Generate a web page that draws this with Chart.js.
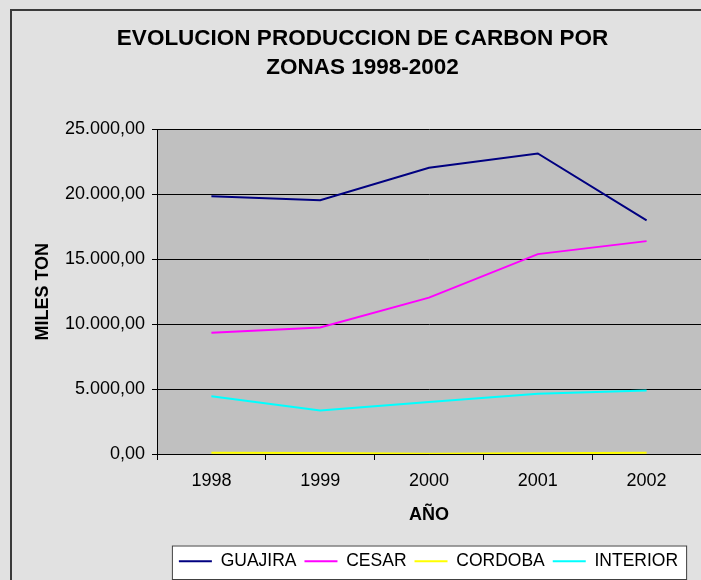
<!DOCTYPE html>
<html>
<head>
<meta charset="utf-8">
<title>Evolucion produccion de carbon</title>
<script src="https://cdn.jsdelivr.net/npm/chart.js@4.4.1/dist/chart.umd.min.js"></script>
<style>
    html, body { margin: 0; padding: 0; background: #e1e1e1; }
    #wrap { width: 701px; height: 580px; }
</style>
</head>
<body>
<div id="wrap"><canvas id="carbon"></canvas></div>
<script>
(function () {
    'use strict';

    //DATA (MILES TON)
    var years = ['1998', '1999', '2000', '2001', '2002'];
    var guajira = [19850, 19550, 22050, 23150, 18000];
    var cesar = [9350, 9750, 12050, 15400, 16400];
    var cordoba = [90, 80, 20, 60, 90];
    var interior = [4450, 3350, 4000, 4650, 4900];
    var yTicks = [0, 5000, 10000, 15000, 20000, 25000];

    var FONT = "'Liberation Sans', Arial, sans-serif";

    //25000 -> 25.000,00
    function miles(v) {
        var s = Math.round(v).toString();
        s = s.replace(/\B(?=(\d{3})+(?!\d))/g, '.');
        return s + ',00';
    }

    function line(label, data, color) {
        return {
            label: label,
            data: data,
            borderColor: color,
            backgroundColor: color,
            borderWidth: 2,
            pointRadius: 0,
            tension: 0,
            fill: false
        };
    }

    //FRAME, GREY PLOT AREA AND THE LEGEND BOX
    var excelLook = {
        id: 'excelLook',
        afterLayout: function (chart) {
            chart.titleBlock.left += 12;
            chart.titleBlock.right += 12;
            chart.legend.left += 78;
            chart.legend.right += 78;
        },
        beforeDraw: function (chart) {
            var ctx = chart.ctx;
            var a = chart.chartArea;
            var lg = chart.legend;
            ctx.save();
            ctx.fillStyle = '#e1e1e1';
            ctx.fillRect(0, 0, chart.width, chart.height);
            ctx.strokeStyle = '#3a3a3a';
            ctx.lineWidth = 2;
            ctx.strokeRect(11, 10, chart.width + 20, chart.height + 20);
            ctx.fillStyle = '#c0c0c0';
            ctx.fillRect(a.left, a.top, a.right - a.left, a.bottom - a.top);

            var boxes = lg.legendHitBoxes;
            if (boxes && boxes.length) {
                var first = boxes[0];
                var last = boxes[boxes.length - 1];
                var x0 = first.left - 7;
                var x1 = last.left + last.width + 8;
                ctx.fillStyle = '#ffffff';
                ctx.fillRect(x0, lg.top + 1, x1 - x0, lg.bottom - lg.top - 2);
                ctx.strokeStyle = '#404040';
                ctx.lineWidth = 1;
                ctx.strokeRect(x0 + 0.5, lg.top + 1.5, x1 - x0, lg.bottom - lg.top - 2);
            }
            ctx.restore();
        }
    };

    var canvas = document.getElementById('carbon');

    new Chart(canvas, {
        type: 'line',
        data: {
            labels: years,
            datasets: [
                line('GUAJIRA', guajira, '#000080'),
                line('CESAR', cesar, '#ff00ff'),
                line('CORDOBA', cordoba, '#ffff00'),
                line('INTERIOR', interior, '#00ffff')
            ]
        },
        options: {
            responsive: true,
            maintainAspectRatio: false,
            animation: false,
            layout: { padding: 0 },
            plugins: {
                tooltip: { enabled: false },
                title: {
                    display: true,
                    text: ['EVOLUCION PRODUCCION DE CARBON POR', 'ZONAS 1998-2002'],
                    color: '#000',
                    font: { family: FONT, size: 22.5, weight: 'bold', lineHeight: 1.3 },
                    padding: { top: 24, bottom: 47 }
                },
                legend: {
                    position: 'bottom',
                    labels: {
                        color: '#000',
                        font: { family: FONT, size: 17.5 },
                        boxWidth: 33,
                        boxHeight: 2,
                        padding: 8,
                        generateLabels: function (chart) {
                            return chart.data.datasets.map(function (ds, i) {
                                return {
                                    text: ds.label,
                                    fillStyle: ds.borderColor,
                                    strokeStyle: ds.borderColor,
                                    lineWidth: 0,
                                    fontColor: '#000',
                                    hidden: false,
                                    datasetIndex: i
                                };
                            });
                        }
                    }
                }
            },
            scales: {
                x: {
                    offset: true,
                    afterFit: function (scale) {
                        var lg = scale.chart.legend;
                        scale.height = scale.chart.height - 454 - (lg ? lg.height : 36);
                    },
                    grid: {
                        offset: true,
                        drawOnChartArea: false,
                        drawTicks: true,
                        tickLength: 6,
                        color: '#000'
                    },
                    border: { display: true, color: '#000', width: 1 },
                    ticks: {
                        color: '#000',
                        padding: 10,
                        font: { family: FONT, size: 18 }
                    },
                    title: {
                        display: true,
                        text: 'AÑO',
                        color: '#000',
                        font: { family: FONT, size: 18, weight: 'bold' },
                        padding: { top: 4, bottom: 19 }
                    }
                },
                y: {
                    min: yTicks[0],
                    max: yTicks[yTicks.length - 1],
                    afterFit: function (scale) {
                        scale.width = 157;
                    },
                    afterBuildTicks: function (scale) {
                        scale.ticks = yTicks.map(function (v) { return { value: v }; });
                    },
                    grid: {
                        color: '#000',
                        lineWidth: 1,
                        tickLength: 5,
                        drawTicks: true
                    },
                    border: { display: true, color: '#000', width: 1 },
                    ticks: {
                        color: '#000',
                        padding: 7,
                        font: { family: FONT, size: 18 },
                        callback: function (v) { return miles(v); }
                    },
                    title: {
                        display: true,
                        text: 'MILES TON',
                        color: '#000',
                        font: { family: FONT, size: 18, weight: 'bold' },
                        padding: { top: 32, bottom: 0 }
                    }
                }
            }
        },
        plugins: [excelLook]
    });

})();
</script>
</body>
</html>
